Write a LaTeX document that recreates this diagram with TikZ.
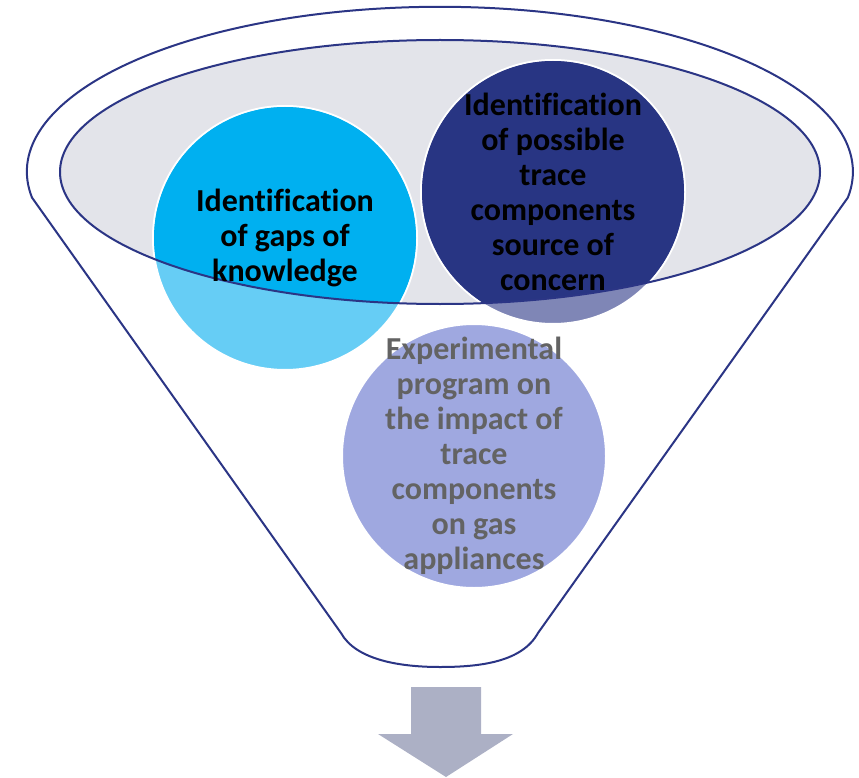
\documentclass[tikz,border=0pt]{standalone}
\usepackage{fontspec}
\setmainfont{Carlito}[Ligatures=NoCommon]
\definecolor{funnelblue}{HTML}{2B3585}
\definecolor{rimgray}{HTML}{E3E4EA}
\definecolor{skyblue}{HTML}{00B0F0}
\definecolor{skylight}{HTML}{66CDF5}
\definecolor{navyblue}{HTML}{283583}
\definecolor{navylight}{HTML}{7F86B6}
\definecolor{lavender}{HTML}{9FA8E0}
\definecolor{textgray}{HTML}{636363}
\definecolor{arrowgray}{HTML}{ACB0C5}

\begin{document}
\begin{tikzpicture}[x=1pt, y=-1pt,
    bubble/.style={circle, minimum size=264pt, inner sep=0pt, draw=white, line width=2pt},
    bubbletext/.style={align=center, font=\bfseries\fontsize{32}{35}\selectfont}]
    \useasboundingbox (0,0) rectangle (859,778);

    % Funnel outline
    \draw[funnelblue, line width=2pt, fill=white]
        (32,197.6) arc[start angle=171, end angle=369, x radius=413, y radius=165]
        -- (538,633) .. controls (522,662) and (480,667) .. (440,667)
        .. controls (400,667) and (356,660) .. (341,633) -- cycle;

    % Rim of the funnel
    \fill[rimgray] (440,172) ellipse[x radius=380, y radius=132];

    % Circles (light part outside the rim)
    \node[bubble, fill=skylight] (gaps) at (285,238) {};
    \node[bubble, fill=navylight] (trace) at (553,192) {};
    \node[bubble, fill=lavender] (program) at (474,456) {};

    % Circles (full colour inside the rim)
    \begin{scope}
        \clip (440,172) ellipse[x radius=380, y radius=132];
        \fill[skyblue] (gaps.center) circle[radius=131];
        \fill[navyblue] (trace.center) circle[radius=131];
    \end{scope}
    \draw[funnelblue, line width=2pt] (440,172) ellipse[x radius=380, y radius=132];

    % Texts
    \node[bubbletext] (gapstext) at (gaps) {Identification\\of gaps of\\knowledge};
    \node[bubbletext] (tracetext) at (trace) {Identification\\of possible\\trace\\components\\source of\\concern};
    \node[bubbletext, text=textgray] (programtext) at (program) {Experimental\\program on\\the impact of\\trace\\components\\on gas\\appliances};

    % Output arrow
    \fill[arrowgray] (411,687) -- (481,687) -- (481,734) -- (513,734) -- (446,777)
        -- (378,734) -- (411,734) -- cycle;
\end{tikzpicture}
\end{document}
